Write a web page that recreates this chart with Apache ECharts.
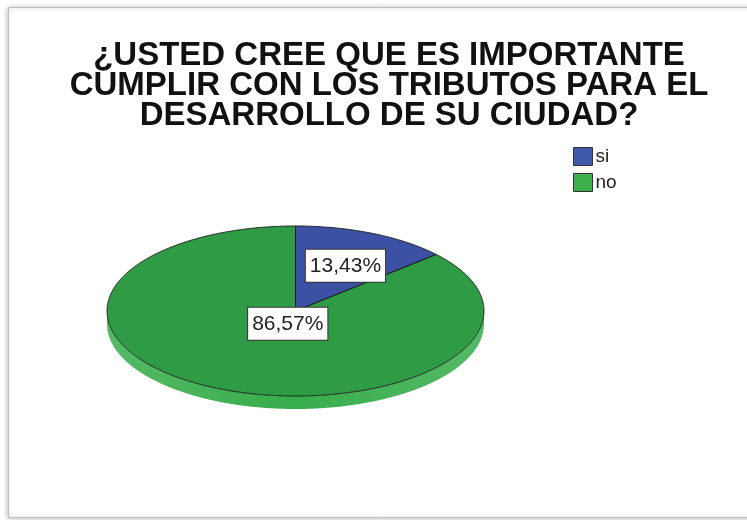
<!DOCTYPE html>
<html><head><meta charset="utf-8">
<script src="https://cdn.jsdelivr.net/npm/echarts@6/dist/echarts.min.js"></script>
<style>html,body{margin:0;padding:0;background:#fff}#c{width:747px;height:520px}</style>
</head><body><div id="c"></div>
<script>
// ---- data ----
const categories = ['si', 'no'];
const values = [13.43, 86.57];
const titleLines = ['¿USTED CREE QUE ES IMPORTANTE', 'CUMPLIR CON LOS TRIBUTOS PARA EL', 'DESARROLLO DE SU CIUDAD?'];

// ---- styles / layout ----
const topColors = ['#3c50a4', '#2f9b45'];
const wallColors = ['#4a5fb5', '#37ad4b'];
const legendColors = ['#3e58ac', '#3db04b'];
const PIE = {cx: 295.5, cy: 311, rx: 188.5, ry: 85, depth: 13, labelDy: 5};

const total = values.reduce((a, b) => a + b, 0);
function fmt(v) { return (v / total * 100).toFixed(2).replace('.', ',') + '%'; }

function renderSlice(idx) {
  return function (params, api) {
    const v = api.value(0);
    let before = 0;
    for (let k = 0; k < idx; k++) before += values[k];
    const a0 = Math.PI / 2 - 2 * Math.PI * before / total;
    const sweep = 2 * Math.PI * v / total;
    const N = Math.max(8, Math.ceil(sweep / 0.005));
    const arc = [];
    for (let n = 0; n <= N; n++) {
      const t = a0 - sweep * n / N;
      arc.push([t, PIE.cx + PIE.rx * Math.cos(t), PIE.cy - PIE.ry * Math.sin(t)]);
    }
    const children = [];
    let run = [];
    const flush = () => {
      if (run.length > 1) {
        const pts = run.map(p => [p[1], p[2]]).concat(run.slice().reverse().map(p => [p[1], p[2] + PIE.depth]));
        children.push({
          type: 'polygon', shape: {points: pts}, z2: 1,
          style: {
            fill: new echarts.graphic.LinearGradient(0, 0, 1, 0, [
              {offset: 0, color: echarts.color.lift(wallColors[idx], 0.15)},
              {offset: 0.5, color: wallColors[idx]},
              {offset: 1, color: echarts.color.lift(wallColors[idx], 0.15)}
            ]),
            stroke: null
          }
        });
      }
      run = [];
    };
    for (const p of arc) { if (Math.sin(p[0]) <= 1e-9) run.push(p); else flush(); }
    flush();
    const facePts = [[PIE.cx, PIE.cy]].concat(arc.map(p => [p[1], p[2]]));
    children.push({
      type: 'polygon', shape: {points: facePts}, z2: 2,
      style: {fill: topColors[idx], stroke: '#1c1c1c', lineWidth: 1, lineJoin: 'round'}
    });
    const alpha = sweep / 2;
    const r = alpha < 1e-6 ? 2 / 3 : (2 / 3) * Math.sin(alpha) / alpha;
    const mid = a0 - alpha;
    children.push({
      type: 'text', z2: 100,
      x: PIE.cx + PIE.rx * r * Math.cos(mid),
      y: PIE.cy - PIE.ry * r * Math.sin(mid) + PIE.labelDy,
      style: {
        text: fmt(v), fill: '#222', font: '21px "Liberation Sans", Arial, sans-serif',
        align: 'center', verticalAlign: 'middle',
        backgroundColor: '#fff', borderColor: '#333', borderWidth: 1, padding: [6, 4, 5, 4]
      }
    });
    return {type: 'group', children};
  };
}

const chart = echarts.init(document.getElementById('c'), null, {renderer: 'canvas'});
chart.setOption({
  animation: false,
  backgroundColor: '#fff',
  graphic: [{
    type: 'rect', z: -10, silent: true,
    shape: {x: 8.5, y: 7.5, width: 800, height: 510},
    style: {fill: '#fff', stroke: '#bdbdbd', lineWidth: 1, shadowBlur: 5, shadowColor: 'rgba(0,0,0,0.3)', shadowOffsetX: -1}
  }],
  title: {
    text: titleLines.join('\n'),
    left: 384, top: 36, textAlign: 'center',
    textStyle: {fontSize: 33, fontWeight: 'bold', color: '#111', lineHeight: 30, fontFamily: '"Liberation Sans", Arial, sans-serif'}
  },
  legend: {
    orient: 'vertical', left: 568, top: 142, icon: 'rect',
    itemWidth: 19, itemHeight: 18, itemGap: 7,
    data: categories,
    itemStyle: {borderColor: '#333', borderWidth: 1},
    textStyle: {fontSize: 19, color: '#222', fontFamily: '"Liberation Sans", Arial, sans-serif', padding: [0, 0, 0, -2]},
    selectedMode: false
  },
  series: categories.map((name, i) => ({
    type: 'custom', name, coordinateSystem: 'none', silent: true, z: 2,
    itemStyle: {color: legendColors[i]},
    data: [values[i]],
    renderItem: renderSlice(i)
  }))
});
</script></body></html>
